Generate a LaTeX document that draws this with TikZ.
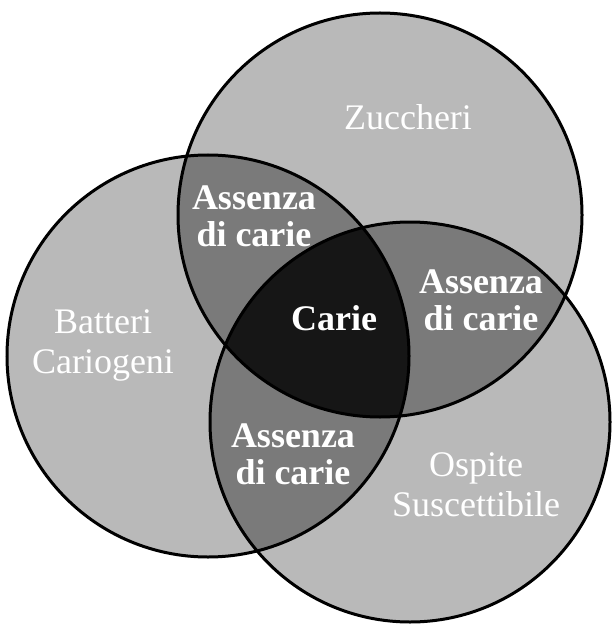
\documentclass[tikz,border=0pt]{standalone}
\usepackage{fontspec}
\setmainfont{Liberation Serif}
\definecolor{lightg}{RGB}{185,185,185}
\definecolor{midg}{RGB}{122,122,122}
\definecolor{darkg}{RGB}{22,22,22}
\begin{document}
\begin{tikzpicture}[x=1pt,y=-1pt,
  lbl/.style={text=white, align=center, inner sep=0pt, font=\fontsize{36}{40}\selectfont},
  blbl/.style={text=white, align=center, inner sep=0pt, font=\bfseries\fontsize{36}{37}\selectfont},
  ring/.style={draw=black, line width=3pt}]
\useasboundingbox (0,0) rectangle (613,628);
\fill[white] (0,0) rectangle (613,628);
\coordinate (Zc) at (380,215);
\coordinate (Bc) at (208,356);
\coordinate (Oc) at (410,422);
% base fills
\fill[lightg] (Zc) circle[radius=202pt];
\fill[lightg] (Bc) circle[radius=201pt];
\fill[lightg] (Oc) circle[radius=200pt];
% pairwise overlaps
\begin{scope}
  \clip (Zc) circle[radius=202pt];
  \fill[midg] (Bc) circle[radius=201pt];
  \fill[midg] (Oc) circle[radius=200pt];
\end{scope}
\begin{scope}
  \clip (Bc) circle[radius=201pt];
  \fill[midg] (Oc) circle[radius=200pt];
\end{scope}
% triple overlap
\begin{scope}
  \clip (Zc) circle[radius=202pt];
  \clip (Bc) circle[radius=201pt];
  \fill[darkg] (Oc) circle[radius=200pt];
\end{scope}
% outlines
\draw[ring] (Zc) circle[radius=202pt];
\draw[ring] (Bc) circle[radius=201pt];
\draw[ring] (Oc) circle[radius=200pt];
% labels
\node[lbl] (zuc) at (408,117) {Zuccheri};
\node[lbl] (bat) at (103,345) {Batteri\\Cariogeni};
\node[lbl] (osp) at (476,485) {Ospite\\Suscettibile};
\node[blbl] (ac1) at (254,216) {Assenza\\di carie};
\node[blbl] (ac2) at (481,300) {Assenza\\di carie};
\node[blbl] (ac3) at (293,454) {Assenza\\di carie};
\node[blbl] (car) at (334,318) {Carie};
\end{tikzpicture}
\end{document}
